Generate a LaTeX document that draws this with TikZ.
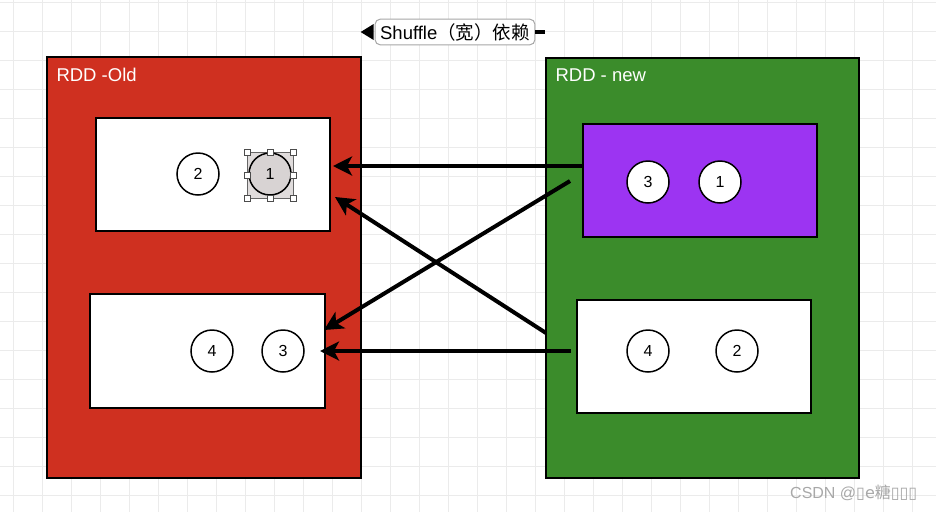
\documentclass[tikz,border=0pt]{standalone}
\usepackage{fontspec}
\setmainfont{Liberation Sans}
\newfontfamily\cjk{Noto Sans CJK SC}
\newfontfamily\dejafont{DejaVu Sans}
\usetikzlibrary{arrows.meta}
\definecolor{oldred}{HTML}{CF3020}
\definecolor{newgreen}{HTML}{3B8C2B}
\definecolor{purp}{HTML}{9C34F2}
\definecolor{gridc}{HTML}{EBEBEB}
\definecolor{selgray}{HTML}{D8D3D3}
\definecolor{wmgray}{HTML}{A8A8A8}
\begin{document}
\begin{tikzpicture}[x=1pt,y=-1pt,
  outerbox/.style={draw=black,line width=2pt,inner sep=0pt},
  innerbox/.style={draw=black,line width=2pt,fill=white,inner sep=0pt,minimum width=234pt,minimum height=113pt},
  part/.style={circle,draw=black,line width=1.5pt,fill=white,minimum size=42pt,inner sep=0pt,font=\fontsize{16}{16}\selectfont},
  dep/.style={line width=4pt,-{Stealth[length=19pt,width=19pt,inset=5pt]}},
  title/.style={anchor=west,text=white,font=\fontsize{18.5}{18.5}\selectfont},
  handle/.style={draw=black!70,fill=white,line width=0.6pt,minimum size=6pt,inner sep=0pt}]
\useasboundingbox (0,0) rectangle (936,512);
\fill[white] (0,0) rectangle (936,512);
% grid
\foreach \gx in {13,42,...,936} \draw[gridc,line width=1pt] (\gx,0) -- (\gx,512);
\foreach \gy in {2,31,...,512} \draw[gridc,line width=1pt] (0,\gy) -- (936,\gy);

% label
\node[draw=black!35,fill=white,rounded corners=5pt,line width=1pt,inner xsep=5pt,inner ysep=4pt,
      font=\fontsize{18.5}{19}\selectfont] (lbl) at (455,32) {Shuffle\cjk{（宽）依赖}};
\fill[black] (lbl.west) ++(-14,0) -- ++(13,-8) -- ++(0,16) -- cycle;
\draw[line width=3.5pt] (lbl.east) -- ++(10,0);

% outer RDDs
\node[outerbox,fill=oldred,minimum width=314pt,minimum height=421pt] (old) at (204,267.5) {};
\node[outerbox,fill=newgreen,minimum width=313pt,minimum height=420pt] (new) at (702.5,268) {};
\node[title] (oldt) at (53,75) {RDD -Old};
\node[title] (newt) at (552,75) {RDD - new};

% partitions
\node[innerbox] (o1) at (213,174.5) {};
\node[innerbox,minimum width=235pt,minimum height=114pt] (o2) at (207.5,351) {};
\node[innerbox,fill=purp] (n1) at (700,180.5) {};
\node[innerbox] (n2) at (694,356.5) {};

% selection square
\fill[selgray!80] (247,152) rectangle (293,198);
\draw[black!60,line width=0.8pt] (247,152) rectangle (293,198);
\node[part] (c2) at (198,174) {2};
\node[part,fill=selgray] (c1) at (270,174) {1};
\foreach \hx/\hy [count=\i] in {247/152,270/152,293/152,247/175,293/175,247/198,270/198,293/198}
  \node[handle] (h\i) at (\hx,\hy) {};

\node[part] (c4) at (212,351) {4};
\node[part] (c3) at (283,351) {3};
\node[part] (d3) at (648,182) {3};
\node[part] (d1) at (720,182) {1};
\node[part] (d4) at (648,351) {4};
\node[part] (d2) at (737,351) {2};

% arrows
\coordinate (a1s) at (583,166); \coordinate (a1e) at (333,166);
\coordinate (a2s) at (570,181); \coordinate (a2e) at (324,330);
\coordinate (a3s) at (546,333); \coordinate (a3e) at (335,197);
\coordinate (a4s) at (571,351); \coordinate (a4e) at (320,351);
\draw[dep] (a1s) -- (a1e);
\draw[dep] (a2s) -- (a2e);
\draw[dep] (a3s) -- (a3e);
\draw[dep] (a4s) -- (a4e);

% watermark
\node[anchor=west,text=wmgray,font=\fontsize{16}{16}\selectfont,inner sep=0pt] (wm) at (790,493)
  {CSDN @\dejafont{▯}e\cjk{糖}\dejafont{▯▯▯}};
\end{tikzpicture}
\end{document}
